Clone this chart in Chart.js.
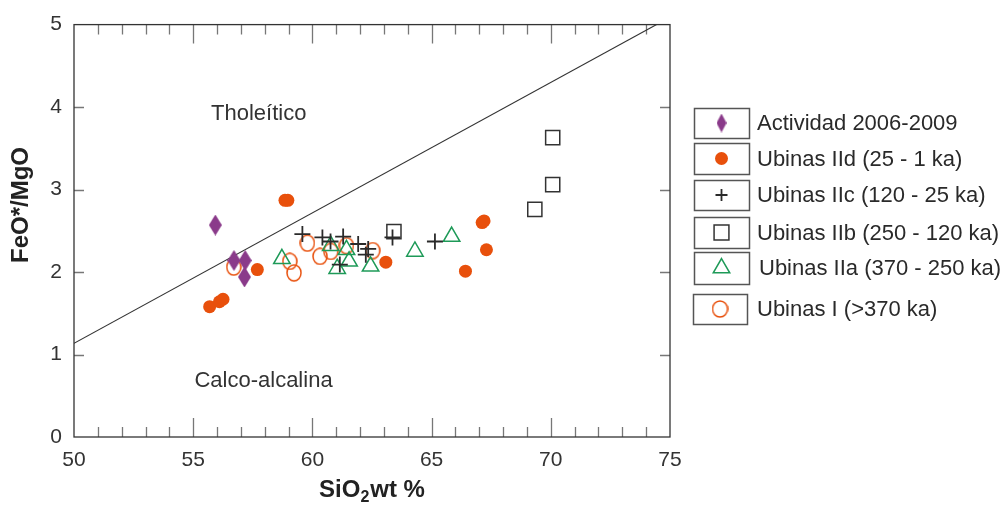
<!DOCTYPE html>
<html>
<head>
<meta charset="utf-8">
<script src="https://cdn.jsdelivr.net/npm/chart.js@4.4.1/dist/chart.umd.min.js"></script>
<style>
    body { margin: 0; background: #fff; }
    #wrap { width: 1005px; height: 508px; }
</style>
</head>
<body>
<div id="wrap"><canvas id="feoChart" width="1005" height="508"></canvas></div>
<script>
// SiO2 (x) and FeO*/MgO (y)
const actividadX = [55.93, 56.71, 57.18, 57.15];
const actividadY = [2.57, 2.14, 2.14, 1.94];

const ubinasIIdX = [58.85, 58.97, 57.69, 55.69, 56.10, 56.25, 63.08, 67.12, 67.20, 67.30, 66.42];
const ubinasIIdY = [2.87, 2.87, 2.03, 1.58, 1.64, 1.67, 2.12, 2.60, 2.62, 2.27, 2.01];

const ubinasIIcX = [59.58, 60.42, 60.76, 61.29, 61.92, 62.34, 62.24, 61.15, 63.36, 65.14];
const ubinasIIcY = [2.46, 2.42, 2.37, 2.43, 2.34, 2.28, 2.21, 2.09, 2.42, 2.37];

const ubinasIIbX = [63.42, 70.08, 70.08, 69.33];
const ubinasIIbY = [2.49, 3.63, 3.06, 2.76];

const ubinasIIaX = [58.72, 60.77, 61.43, 61.54, 61.04, 62.44, 64.30, 65.84];
const ubinasIIaY = [2.16, 2.32, 2.27, 2.13, 2.04, 2.07, 2.25, 2.43];

const ubinasIX = [56.70, 59.79, 59.05, 59.23, 60.32, 60.77, 61.43, 62.53];
const ubinasIY = [2.06, 2.35, 2.13, 1.99, 2.19, 2.25, 2.32, 2.26];

// tholeiitic / calc-alkaline divide
const divideX = [50, 74.44];
const divideY = [1.135, 5];

const seriesLabels = [
    "Actividad 2006-2009",
    "Ubinas IId (25 - 1 ka)",
    "Ubinas IIc (120 - 25 ka)",
    "Ubinas IIb (250 - 120 ka)",
    "Ubinas IIa (370 - 250 ka)",
    "Ubinas I (>370 ka)"
];
const xTicks = [50, 55, 60, 65, 70, 75];
const yTicks = [0, 1, 2, 3, 4, 5];

const FONT = "'Liberation Sans', Arial, Helvetica, sans-serif";
const PURPLE = "#8a3a8a";
const ORANGE = "#e8500c";
const GREEN = "#1e9a58";
const DARK = "#2a2a2a";

function zip(xs, ys) {
    return xs.map((x, i) => ({ x: x, y: ys[i] }));
}

function makeDiamond(w, h, color) {
    const c = document.createElement("canvas");
    c.width = w; c.height = h;
    const g = c.getContext("2d");
    g.fillStyle = color;
    g.beginPath();
    g.moveTo(w / 2, 0);
    g.lineTo(w, h / 2);
    g.lineTo(w / 2, h);
    g.lineTo(0, h / 2);
    g.closePath();
    g.fill();
    return c;
}

function makeRing(w, h, color) {
    const c = document.createElement("canvas");
    c.width = w; c.height = h;
    const g = c.getContext("2d");
    g.strokeStyle = color;
    g.lineWidth = 1.5;
    g.beginPath();
    g.ellipse(w / 2, h / 2, w / 2 - 1, h / 2 - 1, 0, 0, Math.PI * 2);
    g.stroke();
    return c;
}

const diamondBig = makeDiamond(13, 21, PURPLE);
const diamondSmall = makeDiamond(10, 19, PURPLE);
const ringBig = makeRing(16, 18, ORANGE);
const ringSmall = makeRing(17, 18, ORANGE);

const datasets = [
    { label: seriesLabels[0], data: zip(actividadX, actividadY), pointStyle: diamondBig,
      legendStyle: diamondSmall, pointRadius: 10, order: 1 },
    { label: seriesLabels[1], data: zip(ubinasIIdX, ubinasIIdY), pointStyle: "circle",
      pointRadius: 6.5, backgroundColor: ORANGE, borderColor: ORANGE, borderWidth: 0,
      legendRadius: 6.5, order: 2 },
    { label: seriesLabels[2], data: zip(ubinasIIcX, ubinasIIcY), pointStyle: "cross",
      pointRadius: 8, borderColor: DARK, borderWidth: 1.8, legendRadius: 6, order: 0 },
    { label: seriesLabels[3], data: zip(ubinasIIbX, ubinasIIbY), pointStyle: "rect",
      pointRadius: 10, backgroundColor: "rgba(0,0,0,0)", borderColor: "#333", borderWidth: 1.5,
      legendRadius: 10.5, order: 3 },
    { label: seriesLabels[4], data: zip(ubinasIIaX, ubinasIIaY), pointStyle: "triangle",
      pointRadius: 9.5, backgroundColor: "rgba(0,0,0,0)", borderColor: GREEN, borderWidth: 1.5,
      legendRadius: 9.5, order: 4 },
    { label: seriesLabels[5], data: zip(ubinasIX, ubinasIY), pointStyle: ringBig,
      legendStyle: ringSmall, pointRadius: 8, order: 5 },
    { label: "divide", type: "line", data: zip(divideX, divideY), borderColor: "#333",
      borderWidth: 1.1, pointRadius: 0, fill: false, order: 6 }
];

// frame, inward ticks, titles, region names and the boxed legend
const decorPlugin = {
    id: "decor",
    beforeDatasetsDraw(chart) {
        const { ctx, chartArea: a, scales } = chart;
        const xs = scales.x, ys = scales.y;
        ctx.save();
        ctx.lineWidth = 1.3;
        ctx.strokeStyle = "#777";
        for (let v = 51; v < 75; v++) {
            const px = Math.round(xs.getPixelForValue(v)) + 0.5;
            const len = v % 5 === 0 ? 19 : 10;
            ctx.beginPath();
            ctx.moveTo(px, a.bottom); ctx.lineTo(px, a.bottom - len);
            ctx.moveTo(px, a.top); ctx.lineTo(px, a.top + len);
            ctx.stroke();
        }
        for (let v = 1; v < 5; v++) {
            const py = Math.round(ys.getPixelForValue(v)) + 0.5;
            ctx.beginPath();
            ctx.moveTo(a.left, py); ctx.lineTo(a.left + 10, py);
            ctx.moveTo(a.right, py); ctx.lineTo(a.right - 10, py);
            ctx.stroke();
        }
        ctx.strokeStyle = "#333";
        ctx.strokeRect(a.left, a.top, a.right - a.left, a.bottom - a.top);

        ctx.fillStyle = "#333";
        ctx.font = "22px " + FONT;
        ctx.textAlign = "center";
        ctx.textBaseline = "middle";
        ctx.fillText("Tholeítico", xs.getPixelForValue(57.75), ys.getPixelForValue(3.92));
        ctx.fillText("Calco-alcalina", xs.getPixelForValue(57.95), ys.getPixelForValue(0.68));

        // y title
        ctx.fillStyle = "#222";
        ctx.font = "bold 24px " + FONT;
        ctx.save();
        ctx.translate(21, 205);
        ctx.rotate(-Math.PI / 2);
        ctx.fillText("FeO*/MgO", 0, 0);
        ctx.restore();

        // x title with subscript
        ctx.textAlign = "left";
        const partA = "SiO", partB = "wt %";
        const wA = ctx.measureText(partA).width;
        ctx.font = "bold 16px " + FONT;
        const wSub = ctx.measureText("2").width;
        ctx.font = "bold 24px " + FONT;
        const wB = ctx.measureText(partB).width;
        let tx = 372 - (wA + wSub + 1 + wB) / 2;
        ctx.fillText(partA, tx, 490);
        ctx.font = "bold 16px " + FONT;
        ctx.fillText("2", tx + wA, 498);
        ctx.font = "bold 24px " + FONT;
        ctx.fillText(partB, tx + wA + wSub + 1, 490);

        // legend
        const boxes = [[694, 108, 55, 30], [694, 143, 55, 31], [694, 180, 55, 30],
                       [694, 217, 55, 31], [694, 252, 55, 32], [693, 294, 54, 30]];
        const textX = [757, 757, 757, 757, 759, 757];
        ctx.font = "22px " + FONT;
        chart.data.datasets.slice(0, 6).forEach((ds, i) => {
            const [bx, by, bw, bh] = boxes[i];
            ctx.strokeStyle = "#555";
            ctx.lineWidth = 1.5;
            ctx.strokeRect(bx + 0.5, by + 0.5, bw, bh);
            const cx = bx + bw / 2, cy = by + bh / 2;
            ctx.fillStyle = ds.backgroundColor || "rgba(0,0,0,0)";
            ctx.strokeStyle = ds.borderColor || "#000";
            ctx.lineWidth = ds.borderWidth || 1;
            Chart.helpers.drawPoint(ctx, {
                pointStyle: ds.legendStyle || ds.pointStyle,
                radius: ds.legendRadius || 6,
                rotation: 0,
                borderWidth: ds.borderWidth || 0
            }, cx, cy);
            ctx.fillStyle = "#2a2a2a";
            ctx.textBaseline = "middle";
            ctx.fillText(ds.label, textX[i], cy + 1);
        });
        ctx.restore();
    }
};

new Chart(document.getElementById("feoChart"), {
    type: "scatter",
    data: { datasets: datasets },
    options: {
        responsive: false,
        animation: false,
        layout: { padding: { top: 20, right: 335, left: 0, bottom: 0 } },
        plugins: { legend: { display: false }, tooltip: { enabled: false } },
        scales: {
            x: {
                type: "linear", min: 50, max: 75,
                afterBuildTicks: (s) => { s.ticks = xTicks.map(v => ({ value: v })); },
                afterFit: (s) => { s.height = 71; },
                grid: { display: false, drawTicks: false },
                border: { display: false },
                ticks: { color: "#333", padding: 11, font: { size: 21, family: FONT } }
            },
            y: {
                type: "linear", min: 0, max: 5,
                afterBuildTicks: (s) => { s.ticks = yTicks.map(v => ({ value: v })); },
                afterFit: (s) => { s.width = 74; },
                grid: { display: false, drawTicks: false },
                border: { display: false },
                ticks: { color: "#333", padding: 12, font: { size: 21, family: FONT } }
            }
        }
    },
    plugins: [decorPlugin]
});
</script>
</body>
</html>
